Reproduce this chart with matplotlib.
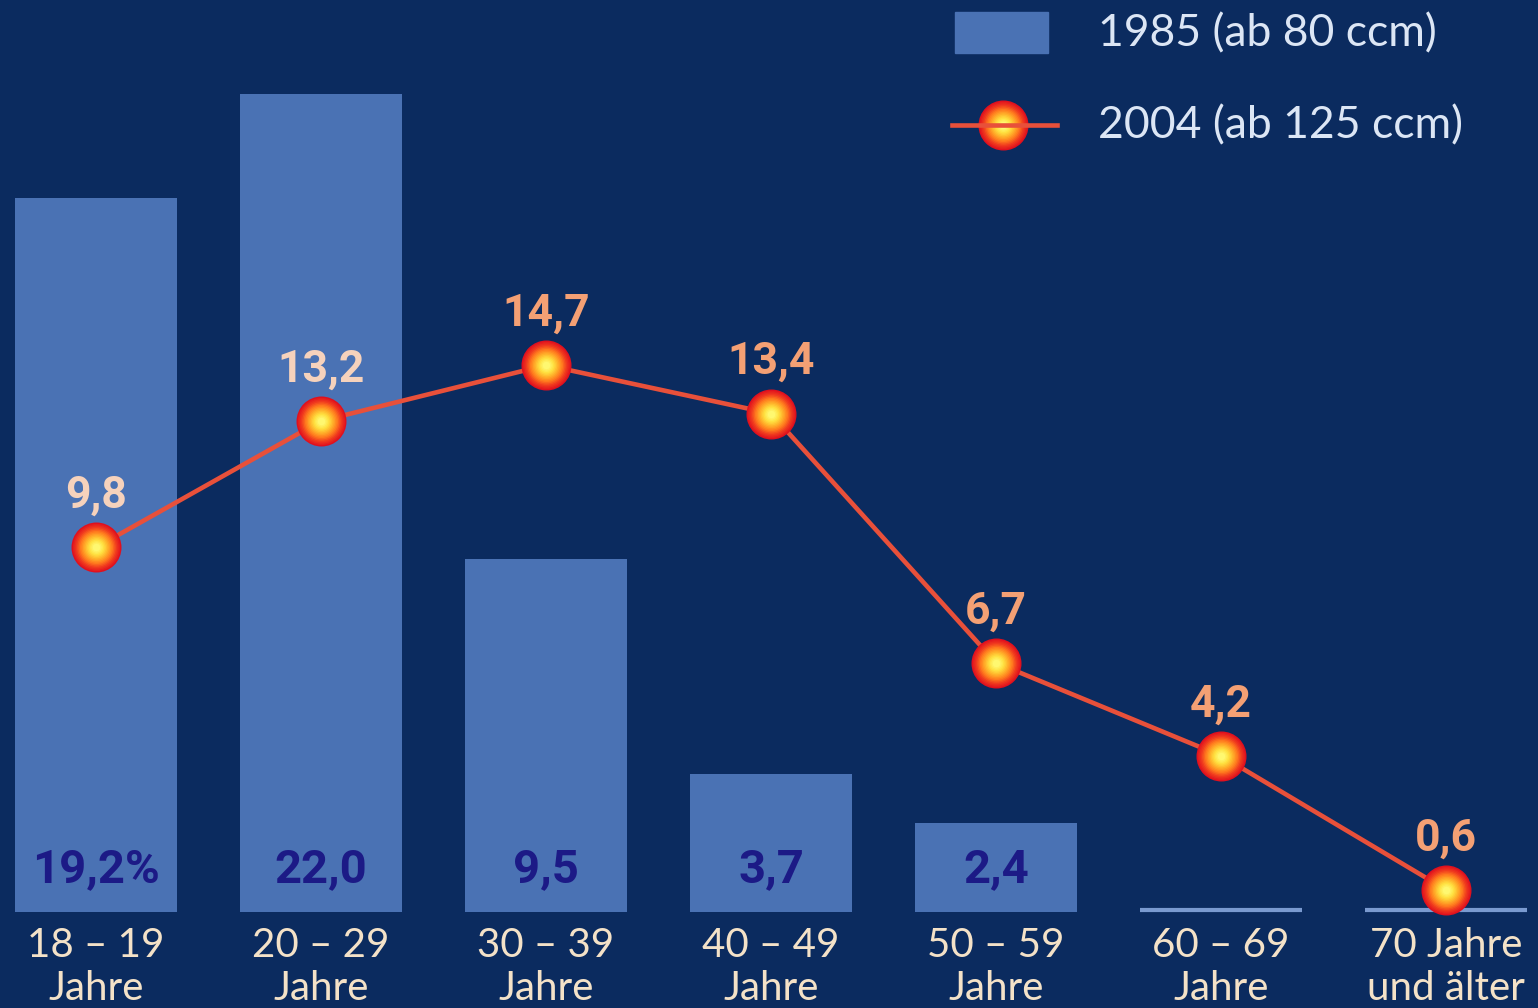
import numpy as np
import matplotlib.pyplot as plt
from matplotlib.colors import LinearSegmentedColormap
from matplotlib.patches import Rectangle
from matplotlib.lines import Line2D

# Motorcycle owners by age group, share in percent
age_groups = ["18 – 19\nJahre", "20 – 29\nJahre", "30 – 39\nJahre", "40 – 49\nJahre",
              "50 – 59\nJahre", "60 – 69\nJahre", "70 Jahre\nund älter"]
share_1985 = [19.2, 22.0, 9.5, 3.7, 2.4, 0.0, 0.0]
share_2004 = [9.8, 13.2, 14.7, 13.4, 6.7, 4.2, 0.6]
legend_1985 = "1985 (ab 80 ccm)"
legend_2004 = "2004 (ab 125 ccm)"

BG = "#0b2b5f"
BAR = "#4a72b4"
LINE = "#e8503a"
VALUE_DARK = "#1c1a86"
LABEL_ON_BG = "#f4a074"
LABEL_ON_BAR = "#f6d2bc"
TICK = "#f4e2c8"
LEGEND_TXT = "#dce6f5"

glow = LinearSegmentedColormap.from_list(
    "glow", ["#e0101e", "#f03a1e", "#ff7a1e", "#ffb02a", "#ffe040", "#fff870"])


def fmt(v):
    return f"{v:.1f}".replace(".", ",")


def glow_markers(ax, xs, ys, radius_pt, zorder):
    # stacked discs fake a radial gradient: red rim, yellow core
    n = 16
    for k in range(n):
        f = k / (n - 1)
        d = 2 * radius_pt * (1 - 0.85 * f)
        ax.scatter(xs, ys, s=d ** 2, color=glow(f), lw=0,
                   zorder=zorder + k * 0.01, clip_on=False)


W, H = 1538, 1008
fig = plt.figure(figsize=(W / 100, H / 100), dpi=100, facecolor=BG)

base_px = 96          # baseline distance from bottom, px
px_per_unit = 37.2
ax = fig.add_axes([0, base_px / H, 1, 1 - base_px / H])
ax.set_facecolor(BG)

x = np.arange(len(age_groups))
ax.set_xlim(-96 / 225, (W - 96) / 225)
ax.set_ylim(0, (H - base_px) / px_per_unit)

# bars, with a thin baseline where there is no 1985 value
ax.bar(x, share_1985, width=0.72, color=BAR, zorder=2)
for xi, v in zip(x, share_1985):
    if v == 0:
        ax.hlines(0.05, xi - 0.36, xi + 0.36, color="#7a9ad0", lw=3, zorder=2, clip_on=False)
    else:
        txt = fmt(v) + ("%" if xi == 0 else "")
        ax.annotate(txt, (xi, 0), xytext=(0, 31), textcoords="offset points",
                    ha="center", va="center", fontsize=34, fontweight="bold",
                    family="Roboto", color=VALUE_DARK, zorder=5)

# 2004 line with glowing markers
ax.plot(x, share_2004, color=LINE, lw=3.3, zorder=3, clip_on=False)
glow_markers(ax, x, share_2004, 18, zorder=4)
for xi, v, b in zip(x, share_2004, share_1985):
    col = LABEL_ON_BAR if v + 1.6 < b else LABEL_ON_BG
    ax.annotate(fmt(v), (xi, v), xytext=(0, 37), textcoords="offset points",
                ha="center", va="center", fontsize=32, fontweight="bold",
                family="Roboto", color=col, zorder=5)

ax.set_xticks(x, age_groups)
ax.tick_params(axis="x", length=0, pad=11, colors=TICK)
for lbl in ax.get_xticklabels():
    lbl.set_fontsize(29)
    lbl.set_family("Lato")
    lbl.set_fontweight("normal")
    lbl.set_linespacing(1.2)
ax.set_yticks([])
for s in ax.spines.values():
    s.set_visible(False)

# legend drawn in figure pixel space
tf = fig.transFigure
fig.patches.append(Rectangle((955 / W, 1 - 53 / H), 93 / W, 41 / H,
                             color=BAR, transform=tf, zorder=1))
fig.text(1098 / W, 1 - 34 / H, legend_1985, color=LEGEND_TXT, fontsize=32,
         family="Lato", fontweight="normal", va="center", ha="left")
fig.lines.append(Line2D([952 / W, 1057 / W], [1 - 125 / H] * 2, color=LINE,
                        lw=3.3, transform=tf))
leg_ax = fig.add_axes([0, 0, 1, 1], facecolor="none")
leg_ax.set_xlim(0, W)
leg_ax.set_ylim(H, 0)
leg_ax.axis("off")
glow_markers(leg_ax, [1003], [125], 18, zorder=4)
fig.text(1098 / W, 1 - 126 / H, legend_2004, color=LEGEND_TXT, fontsize=32,
         family="Lato", fontweight="normal", va="center", ha="left")

fig.savefig("out.png", dpi=100, facecolor=BG)
